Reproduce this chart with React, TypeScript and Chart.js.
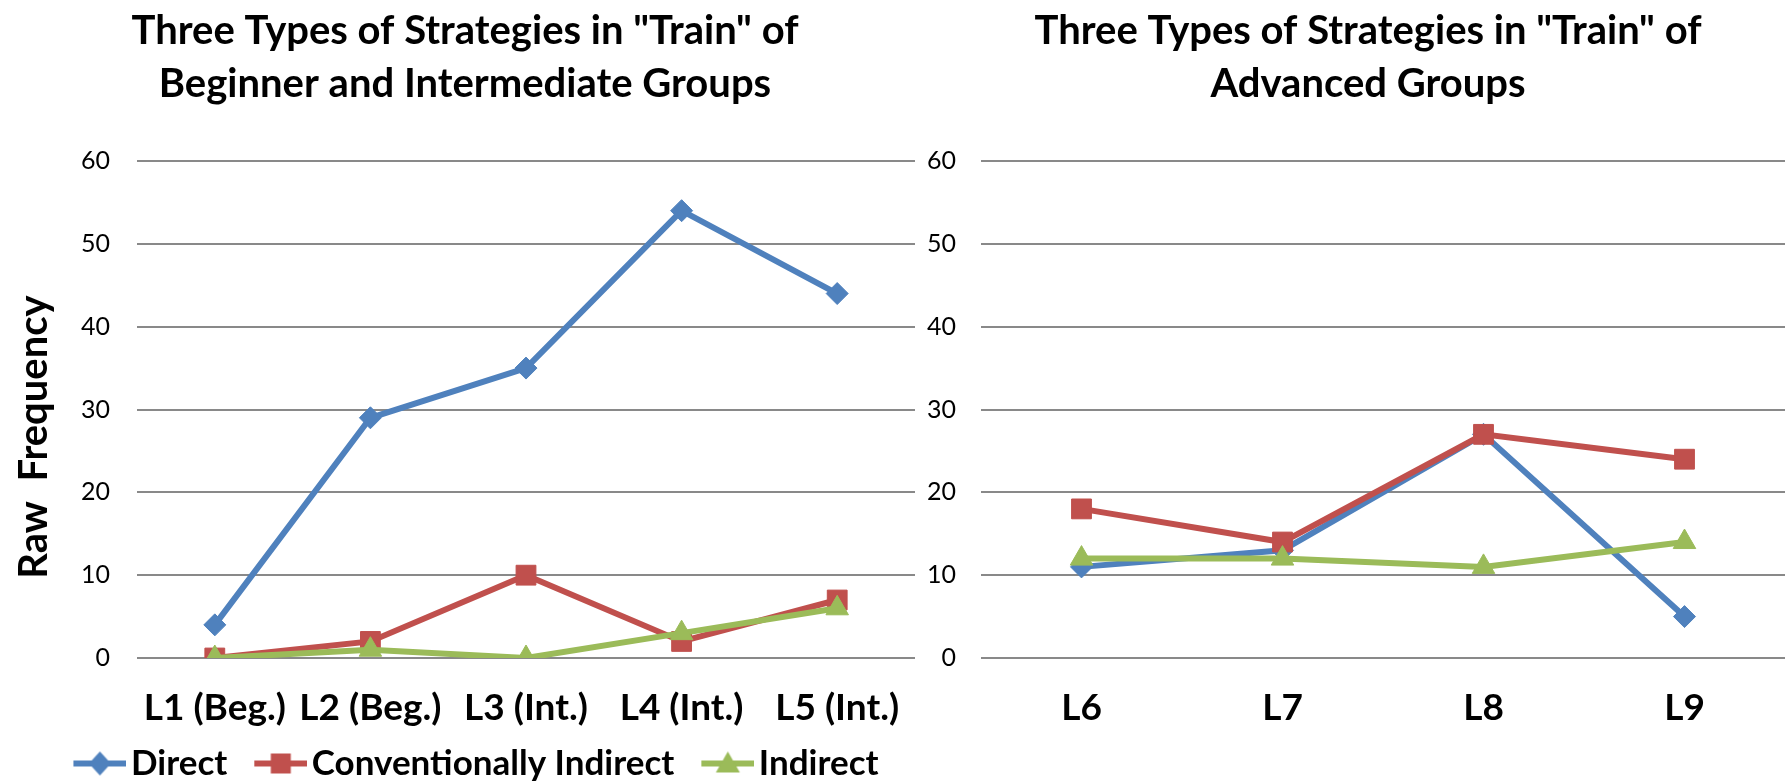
import React, { useEffect, useRef } from 'react';
import { Chart, registerables } from 'chart.js';

Chart.register(...registerables);

// ---- data ----
const leftCategories = ['L1 (Beg.)', 'L2 (Beg.)', 'L3 (Int.)', 'L4 (Int.)', 'L5 (Int.)'];
const leftDirect = [4, 29, 35, 54, 44];
const leftConventional = [0, 2, 10, 2, 7];
const leftIndirect = [0, 1, 0, 3, 6];

const rightCategories = ['L6', 'L7', 'L8', 'L9'];
const rightDirect = [11, 13, 27, 5];
const rightConventional = [18, 14, 27, 24];
const rightIndirect = [12, 12, 11, 14];

const seriesNames = ['Direct', 'Conventionally Indirect', 'Indirect'];
const leftTitle = ['Three Types of Strategies in "Train" of', 'Beginner and Intermediate Groups'];
const rightTitle = ['Three Types of Strategies in "Train" of', 'Advanced Groups'];
const yAxisTitle = 'Raw  Frequency';
const yMin = 0;
const yMax = 60;
const yStep = 10;

// ---- styling ----
const FONT = 'Lato, "Open Sans", sans-serif';
const COLORS = ['#4F81BD', '#C0504D', '#9BBB59'];
const POINT_STYLES = ['rectRot', 'rect', 'triangle'];
const POINT_RADII = [11, 14, 13];
const DRAW_ORDER = [2, 1, 0];
const GRID_COLOR = '#898989';
const LINE_WIDTH = 6;

const CANVAS_H = 791;
const LEGEND_FONT = 35;

// Legend key: a short line segment with the series marker in its middle
function makeSymbol(color: string, style: string): HTMLCanvasElement {
  const c = document.createElement('canvas');
  c.width = 88;
  c.height = 30;
  const ctx = c.getContext('2d') as CanvasRenderingContext2D;
  const cy = 15;
  const x0 = 35;
  const x1 = 88;
  const cx = (x0 + x1) / 2;
  ctx.strokeStyle = color;
  ctx.lineWidth = LINE_WIDTH;
  ctx.beginPath();
  ctx.moveTo(x0, cy);
  ctx.lineTo(x1, cy);
  ctx.stroke();
  ctx.fillStyle = color;
  ctx.beginPath();
  if (style === 'rectRot') {
    ctx.moveTo(cx, cy - 12);
    ctx.lineTo(cx + 11, cy);
    ctx.lineTo(cx, cy + 12);
    ctx.lineTo(cx - 11, cy);
  } else if (style === 'rect') {
    ctx.rect(cx - 10, cy - 10, 20, 20);
  } else {
    ctx.moveTo(cx, cy - 12);
    ctx.lineTo(cx + 12, cy + 9);
    ctx.lineTo(cx - 12, cy + 9);
  }
  ctx.closePath();
  ctx.fill();
  return c;
}

const yTitlePlugin = {
  id: 'yTitle',
  afterDraw(chart: any) {
    const ctx = chart.ctx as CanvasRenderingContext2D;
    ctx.save();
    ctx.translate(34, 437);
    ctx.rotate(-Math.PI / 2);
    ctx.font = `bold 40px ${FONT}`;
    ctx.fillStyle = '#000';
    ctx.textAlign = 'center';
    ctx.textBaseline = 'middle';
    ctx.fillText(yAxisTitle, 0, 0);
    ctx.restore();
  },
};

interface PanelSpec {
  categories: string[];
  series: number[][];
  title: string[];
  yAxisWidth: number;
  yTickPadding: number;
  rightPad: number;
  legend: boolean;
  yTitle: boolean;
}

function buildConfig(spec: PanelSpec): any {
  const datasets = spec.series.map((values, i) => ({
    label: seriesNames[i],
    data: values,
    yAxisID: 'y',
    borderColor: COLORS[i],
    backgroundColor: COLORS[i],
    borderWidth: LINE_WIDTH,
    tension: 0,
    fill: false,
    pointStyle: POINT_STYLES[i],
    pointRadius: POINT_RADII[i],
    pointBackgroundColor: COLORS[i],
    pointBorderColor: COLORS[i],
    pointBorderWidth: 1,
    order: DRAW_ORDER[i],
  }));

  return {
    type: 'line',
    data: { labels: spec.categories, datasets },
    plugins: spec.yTitle ? [yTitlePlugin] : [],
    options: {
      responsive: false,
      animation: false,
      devicePixelRatio: 1,
      layout: { padding: { left: 0, right: 0, top: 0, bottom: spec.legend ? 0 : 50 } },
      plugins: {
        title: {
          display: true,
          text: spec.title,
          color: '#000',
          font: { family: FONT, size: 40, weight: 'bold', lineHeight: 53 / 40 },
          padding: { top: 5, bottom: 50 },
        },
        legend: {
          display: spec.legend,
          position: 'bottom',
          align: 'center',
          labels: {
            usePointStyle: true,
            pointStyleWidth: 62,
            padding: 5,
            color: '#000',
            font: { family: FONT, size: LEGEND_FONT, weight: 'bold' },
            generateLabels: () =>
              seriesNames.map((name, i) => ({
                text: name,
                pointStyle: makeSymbol(COLORS[i], POINT_STYLES[i]),
                fillStyle: COLORS[i],
                strokeStyle: COLORS[i],
                lineWidth: 0,
                hidden: false,
                datasetIndex: i,
                fontColor: '#000',
              })),
          },
        },
        tooltip: { enabled: false },
      },
      scales: {
        y: {
          type: 'linear',
          position: 'left',
          min: yMin,
          max: yMax,
          ticks: {
            stepSize: yStep,
            color: '#000',
            padding: spec.yTickPadding,
            font: { family: FONT, size: 25 },
          },
          grid: { color: GRID_COLOR, lineWidth: 2, drawTicks: false },
          border: { display: false },
          afterFit: (scale: any) => {
            scale.width = spec.yAxisWidth;
          },
        },
        yPad: {
          type: 'linear',
          position: 'right',
          display: true,
          min: 0,
          max: 1,
          ticks: { display: false },
          grid: { display: false, drawTicks: false },
          border: { display: false },
          afterFit: (scale: any) => {
            scale.width = spec.rightPad;
          },
        },
        x: {
          type: 'category',
          offset: true,
          ticks: {
            color: '#000',
            padding: 28,
            maxRotation: 0,
            autoSkip: false,
            font: { family: FONT, size: 37, weight: 'bold' },
          },
          grid: { display: false, drawTicks: false },
          border: { display: false },
          afterFit: (scale: any) => {
            scale.height = 83;
          },
        },
      },
    },
  };
}

function Panel(props: { spec: PanelSpec; left: number; width: number }) {
  const ref = useRef<HTMLCanvasElement | null>(null);
  useEffect(() => {
    if (!ref.current) return;
    const chart = new Chart(ref.current, buildConfig(props.spec));
    return () => chart.destroy();
  }, []);
  return (
    <canvas
      ref={ref}
      width={props.width}
      height={CANVAS_H}
      style={{ position: 'absolute', left: props.left, top: 0, width: props.width, height: CANVAS_H }}
    />
  );
}

const leftSpec: PanelSpec = {
  categories: leftCategories,
  series: [leftDirect, leftConventional, leftIndirect],
  title: leftTitle,
  yAxisWidth: 137,
  yTickPadding: 27,
  rightPad: 10,
  legend: true,
  yTitle: true,
};

const rightSpec: PanelSpec = {
  categories: rightCategories,
  series: [rightDirect, rightConventional, rightIndirect],
  title: rightTitle,
  yAxisWidth: 81,
  yTickPadding: 25,
  rightPad: 51,
  legend: false,
  yTitle: false,
};

export default function App() {
  return (
    <div
      style={{
        position: 'fixed',
        left: 0,
        top: 0,
        width: 1785,
        height: 781,
        overflow: 'hidden',
        background: '#fff',
      }}
    >
      <Panel spec={leftSpec} left={0} width={930} />
      <Panel spec={rightSpec} left={900} width={936} />
    </div>
  );
}
